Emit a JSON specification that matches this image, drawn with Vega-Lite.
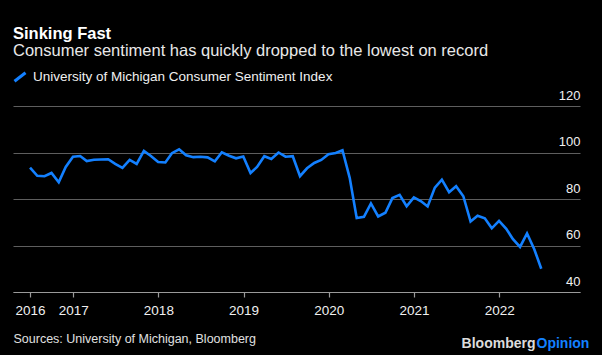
{
  "$schema": "https://vega.github.io/schema/vega-lite/v6.json",
  "width": 567,
  "height": 186,
  "autosize": {"type": "none"},
  "padding": {"left": 13, "top": 106, "right": 22, "bottom": 63},
  "background": "#000000",
  "config": {
    "font": "Liberation Sans",
    "view": {"stroke": null},
    "title": {"font": "Liberation Sans", "subtitleFont": "Liberation Sans"}
  },
  "title": {
    "text": "Sinking Fast",
    "subtitle": "Consumer sentiment has quickly dropped to the lowest on record",
    "anchor": "start",
    "frame": "group",
    "color": "#ffffff",
    "subtitleColor": "#e8e8e8",
    "fontSize": 16.5,
    "fontWeight": "bold",
    "subtitleFontSize": 16.5,
    "subtitlePadding": 0.5,
    "offset": 10.5
  },
  "data": {
    "values": [
      {"date": "2016-06-30", "value": 93.5},
      {"date": "2016-07-31", "value": 90.0},
      {"date": "2016-08-31", "value": 89.8},
      {"date": "2016-09-30", "value": 91.2},
      {"date": "2016-10-31", "value": 87.2},
      {"date": "2016-11-30", "value": 93.8},
      {"date": "2016-12-31", "value": 98.2},
      {"date": "2017-01-31", "value": 98.5},
      {"date": "2017-02-28", "value": 96.3},
      {"date": "2017-03-31", "value": 96.9},
      {"date": "2017-04-30", "value": 97.0},
      {"date": "2017-05-31", "value": 97.1},
      {"date": "2017-06-30", "value": 95.1},
      {"date": "2017-07-31", "value": 93.4},
      {"date": "2017-08-31", "value": 96.8},
      {"date": "2017-09-30", "value": 95.1},
      {"date": "2017-10-31", "value": 100.7},
      {"date": "2017-11-30", "value": 98.5},
      {"date": "2017-12-31", "value": 95.9},
      {"date": "2018-01-31", "value": 95.7},
      {"date": "2018-02-28", "value": 99.7},
      {"date": "2018-03-31", "value": 101.4},
      {"date": "2018-04-30", "value": 98.8},
      {"date": "2018-05-31", "value": 98.0},
      {"date": "2018-06-30", "value": 98.2},
      {"date": "2018-07-31", "value": 97.9},
      {"date": "2018-08-31", "value": 96.2},
      {"date": "2018-09-30", "value": 100.1},
      {"date": "2018-10-31", "value": 98.6},
      {"date": "2018-11-30", "value": 97.5},
      {"date": "2018-12-31", "value": 98.3},
      {"date": "2019-01-31", "value": 91.2},
      {"date": "2019-02-28", "value": 93.8},
      {"date": "2019-03-31", "value": 98.4},
      {"date": "2019-04-30", "value": 97.2},
      {"date": "2019-05-31", "value": 100.0},
      {"date": "2019-06-30", "value": 98.2},
      {"date": "2019-07-31", "value": 98.4},
      {"date": "2019-08-31", "value": 89.8},
      {"date": "2019-09-30", "value": 93.2},
      {"date": "2019-10-31", "value": 95.5},
      {"date": "2019-11-30", "value": 96.8},
      {"date": "2019-12-31", "value": 99.3},
      {"date": "2020-01-31", "value": 99.8},
      {"date": "2020-02-29", "value": 101.0},
      {"date": "2020-03-31", "value": 89.1},
      {"date": "2020-04-30", "value": 71.8},
      {"date": "2020-05-31", "value": 72.3},
      {"date": "2020-06-30", "value": 78.1},
      {"date": "2020-07-31", "value": 72.5},
      {"date": "2020-08-31", "value": 74.1},
      {"date": "2020-09-30", "value": 80.4},
      {"date": "2020-10-31", "value": 81.8},
      {"date": "2020-11-30", "value": 76.9},
      {"date": "2020-12-31", "value": 80.7},
      {"date": "2021-01-31", "value": 79.0},
      {"date": "2021-02-28", "value": 76.8},
      {"date": "2021-03-31", "value": 84.9},
      {"date": "2021-04-30", "value": 88.3},
      {"date": "2021-05-31", "value": 82.9},
      {"date": "2021-06-30", "value": 85.5},
      {"date": "2021-07-31", "value": 81.2},
      {"date": "2021-08-31", "value": 70.3},
      {"date": "2021-09-30", "value": 72.8},
      {"date": "2021-10-31", "value": 71.7},
      {"date": "2021-11-30", "value": 67.4},
      {"date": "2021-12-31", "value": 70.6},
      {"date": "2022-01-31", "value": 67.2},
      {"date": "2022-02-28", "value": 62.8},
      {"date": "2022-03-31", "value": 59.4},
      {"date": "2022-04-30", "value": 65.2},
      {"date": "2022-05-31", "value": 58.4},
      {"date": "2022-06-30", "value": 50.0}
    ]
  },
  "transform": [
    {"calculate": "'University of Michigan Consumer Sentiment Index'", "as": "series"}
  ],
  "layer": [
    {
      "mark": {"type": "line", "strokeWidth": 2.6, "strokeJoin": "miter", "clip": false},
      "encoding": {
        "x": {
          "field": "date",
          "type": "temporal",
          "scale": {"domain": [{"year": 2016, "month": 4, "date": 18}, {"year": 2022, "month": 12, "date": 13}]},
          "axis": {
            "values": [
              {"year": 2016, "month": 6, "date": 30},
              {"year": 2017, "month": 1, "date": 1},
              {"year": 2018, "month": 1, "date": 1},
              {"year": 2019, "month": 1, "date": 1},
              {"year": 2020, "month": 1, "date": 1},
              {"year": 2021, "month": 1, "date": 1},
              {"year": 2022, "month": 1, "date": 1}
            ],
            "format": "%Y",
            "grid": false,
            "domainColor": "#9a9a9a",
            "domainWidth": 1.2,
            "tickColor": "#9a9a9a",
            "tickSize": 5,
            "tickWidth": 1.2,
            "labelColor": "#f0f0f0",
            "labelFontSize": 13.5,
            "labelPadding": 6,
            "labelFlush": false,
            "labelOverlap": false,
            "title": "Sources: University of Michigan, Bloomberg",
            "titleColor": "#e0e0e0",
            "titleFontSize": 12.5,
            "titleFontWeight": "normal",
            "titleAlign": "left",
            "titleAnchor": "start",
            "titleBaseline": "alphabetic",
            "titleX": 0,
            "titleY": 50
          }
        },
        "y": {
          "field": "value",
          "type": "quantitative",
          "scale": {"domain": [40, 120], "nice": false, "zero": false},
          "axis": {
            "orient": "right",
            "values": [40, 60, 80, 100, 120],
            "grid": true,
            "gridColor": "#5e5e5e",
            "gridWidth": 1.2,
            "domain": false,
            "ticks": false,
            "labelAlign": "right",
            "labelBaseline": "alphabetic",
            "labelPadding": 0,
            "labelOffset": -7,
            "labelColor": "#f0f0f0",
            "labelFontSize": 13,
            "title": "Bloomberg",
            "titleAngle": 0,
            "titleAlign": "right",
            "titleBaseline": "alphabetic",
            "titleColor": "#dcdcdc",
            "titleFontSize": 14,
            "titleFontWeight": "bold",
            "titleX": -45,
            "titleY": 241
          }
        },
        "color": {
          "field": "series",
          "type": "nominal",
          "scale": {"range": ["#1380ff"]},
          "legend": {
            "orient": "none",
            "legendX": 0,
            "legendY": -36,
            "title": null,
            "padding": 0,
            "symbolType": "M-1,0.77L1,-0.77",
            "symbolSize": 121,
            "symbolStrokeWidth": 3,
            "symbolFillColor": "transparent",
            "labelColor": "#f0f0f0",
            "labelFontSize": 13.5,
            "labelOffset": 6,
            "labelLimit": 400
          }
        }
      }
    },
    {
      "mark": {"type": "rule", "strokeOpacity": 0},
      "encoding": {
        "y": {
          "datum": 0,
          "type": "quantitative",
          "axis": {
            "orient": "left",
            "labels": false,
            "ticks": false,
            "domain": false,
            "grid": false,
            "title": "Opinion",
            "titleAngle": 0,
            "titleAlign": "left",
            "titleBaseline": "alphabetic",
            "titleColor": "#1380ff",
            "titleFontSize": 14,
            "titleFontWeight": "bold",
            "titleX": 523,
            "titleY": 241
          }
        }
      }
    }
  ],
  "resolve": {"scale": {"y": "independent"}, "axis": {"y": "independent"}}
}
